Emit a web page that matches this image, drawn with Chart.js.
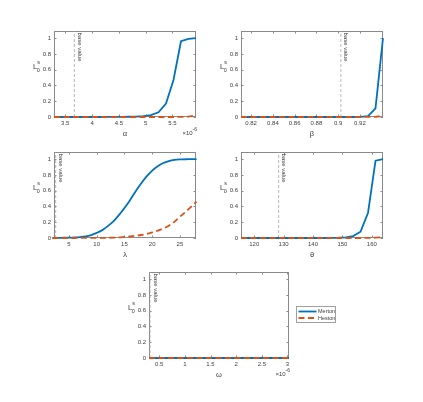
<!DOCTYPE html>
<html>
<head>
<meta charset="utf-8">
<script src="https://cdn.jsdelivr.net/npm/chart.js@4.4.1/dist/chart.umd.min.js"></script>
<style>
body { margin: 0; background: #fff; }
#wrap { position: relative; width: 423px; height: 402px; overflow: hidden; }
#wrap canvas { position: absolute; }
</style>
</head>
<body>
<div id="wrap">
<canvas id="cAlpha"></canvas>
<canvas id="cBeta"></canvas>
<canvas id="cLambda"></canvas>
<canvas id="cTheta"></canvas>
<canvas id="cOmega"></canvas>
</div>
<script>
// --- data ---

// alpha (x in units of 1e-6)
var alphaX = [3.29, 3.43, 3.57, 3.71, 3.85, 3.99, 4.13, 4.27, 4.41, 4.55, 4.69, 4.82, 4.96, 5.10, 5.24, 5.38, 5.52, 5.66, 5.80, 5.94];
var alphaMerton = [0, 0, 0, 0, 0, 0, 0, 0.001, 0.001, 0.002, 0.003, 0.005, 0.01, 0.024, 0.06, 0.17, 0.47, 0.96, 0.99, 1];
var alphaHeston = [0, 0, 0, 0, 0, 0, 0, 0, 0, 0, 0, 0, 0, 0, 0, 0, 0, 0.001, 0.005, 0.022];
var alphaBase = 3.67;
var alphaTicks = [3.5, 4, 4.5, 5, 5.5];
var alphaTickLabels = ['3.5', '4', '4.5', '5', '5.5'];

// beta
var betaX = [0.8107, 0.8176, 0.8244, 0.8313, 0.8382, 0.8450, 0.8519, 0.8588, 0.8656, 0.8725, 0.8794, 0.8862, 0.8931, 0.9000, 0.9068, 0.9137, 0.9206, 0.9275, 0.9343, 0.9412];
var betaMerton = [0, 0, 0, 0, 0, 0, 0, 0, 0, 0, 0, 0, 0, 0, 0, 0, 0.002, 0.012, 0.11, 1];
var betaHeston = [0, 0, 0, 0, 0, 0, 0, 0, 0, 0, 0, 0, 0, 0, 0, 0, 0, 0.001, 0.003, 0.012];
var betaBase = 0.9025;
var betaTicks = [0.82, 0.84, 0.86, 0.88, 0.9, 0.92];
var betaTickLabels = ['0.82', '0.84', '0.86', '0.88', '0.9', '0.92'];

// lambda
var lambdaX = [2, 3, 4, 5, 6, 7, 8, 9, 10, 11, 12, 13, 14, 15, 16, 17, 18, 19, 20, 21, 22, 23, 24, 25, 26, 27, 28];
var lambdaMerton = [0.001, 0.002, 0.003, 0.004, 0.007, 0.012, 0.02, 0.037, 0.065, 0.1, 0.15, 0.21, 0.29, 0.38, 0.48, 0.59, 0.69, 0.78, 0.855, 0.91, 0.95, 0.975, 0.99, 0.996, 0.998, 0.999, 1];
var lambdaHeston = [0, 0, 0, 0, 0, 0.001, 0.001, 0.001, 0.002, 0.002, 0.003, 0.005, 0.008, 0.014, 0.02, 0.028, 0.038, 0.052, 0.07, 0.093, 0.12, 0.155, 0.205, 0.27, 0.33, 0.395, 0.46];
var lambdaBase = 2.6;
var lambdaTicks = [5, 10, 15, 20, 25];
var lambdaTickLabels = ['5', '10', '15', '20', '25'];

// theta
var thetaX = [115.5, 118.04, 120.58, 123.13, 125.67, 128.21, 130.75, 133.29, 135.84, 138.38, 140.92, 143.46, 146.0, 148.55, 151.09, 153.63, 156.17, 158.71, 161.26, 163.8];
var thetaMerton = [0, 0, 0, 0, 0, 0, 0, 0, 0, 0, 0, 0, 0.001, 0.003, 0.008, 0.025, 0.08, 0.32, 0.98, 1];
var thetaHeston = [0, 0, 0, 0, 0, 0, 0, 0, 0, 0, 0, 0, 0, 0, 0, 0, 0, 0.001, 0.004, 0.012];
var thetaBase = 128.3;
var thetaTicks = [120, 130, 140, 150, 160];
var thetaTickLabels = ['120', '130', '140', '150', '160'];

// omega (x in units of 1e-6)
var omegaX = [0.30, 0.44, 0.59, 0.73, 0.87, 1.02, 1.16, 1.31, 1.45, 1.59, 1.74, 1.88, 2.02, 2.17, 2.31, 2.46, 2.60, 2.74, 2.89, 3.03];
var omegaMerton = [0, 0, 0, 0, 0, 0, 0, 0, 0, 0, 0, 0, 0, 0, 0, 0, 0, 0, 0, 0];
var omegaHeston = [0, 0, 0, 0, 0, 0, 0, 0, 0, 0, 0, 0, 0, 0, 0, 0, 0, 0, 0, 0];
var omegaBase = 0.32;
var omegaTicks = [0.5, 1, 1.5, 2, 2.5, 3];
var omegaTickLabels = ['0.5', '1', '1.5', '2', '2.5', '3'];

var yTicks = [0, 0.2, 0.4, 0.6, 0.8, 1];
var yTickLabels = ['0', '0.2', '0.4', '0.6', '0.8', '1'];
var seriesNames = ['Merton', 'Heston'];

// --- look ---
var colMerton = '#0072bd';
var colHeston = '#d95319';
var colBase = '#a6a6a6';
var colAxis = '#8a8a8a';
var colText = '#404040';
var fontFam = '"Liberation Sans", Arial, sans-serif';

var Y_AXIS_W = 42;
var X_AXIS_H = 24;
var PAD_TOP = 8;
var PLOT_H = 86;

function pts(xs, ys) {
    var out = [];
    for (var i = 0; i < xs.length; i++) out.push({ x: xs[i], y: ys[i] });
    return out;
}

// extra drawing: box, inward ticks, y label, base value text, exponent, legend
var decor = {
    id: 'decor',
    beforeDatasetsDraw: function (chart) {
        var ctx = chart.ctx, a = chart.chartArea;
        var xs = chart.scales.x, ys = chart.scales.y;
        ctx.save();
        ctx.strokeStyle = colAxis;
        ctx.lineWidth = 1;
        ctx.strokeRect(a.left + 0.5, a.top + 0.5, a.right - a.left - 1, a.bottom - a.top - 1);
        ctx.beginPath();
        xs.ticks.forEach(function (t) {
            var px = Math.round(xs.getPixelForValue(t.value)) + 0.5;
            ctx.moveTo(px, a.bottom); ctx.lineTo(px, a.bottom - 2.5);
            ctx.moveTo(px, a.top); ctx.lineTo(px, a.top + 2.5);
        });
        ys.ticks.forEach(function (t) {
            var py = Math.round(ys.getPixelForValue(t.value)) + 0.5;
            ctx.moveTo(a.left, py); ctx.lineTo(a.left + 2.5, py);
            ctx.moveTo(a.right, py); ctx.lineTo(a.right - 2.5, py);
        });
        ctx.stroke();
        ctx.restore();
    },
    afterDraw: function (chart, args, o) {
        var ctx = chart.ctx, a = chart.chartArea;
        var xs = chart.scales.x;
        ctx.save();
        ctx.fillStyle = colText;
        // y label L_0^s
        var lx = a.left - 21, ly = a.top + 37.5;
        ctx.textAlign = 'left';
        ctx.textBaseline = 'alphabetic';
        ctx.font = '7.5px ' + fontFam;
        ctx.fillText('L', lx, ly);
        var lw = ctx.measureText('L').width;
        ctx.font = '5.5px ' + fontFam;
        ctx.fillText('0', lx + lw - 0.5, ly + 3.5);
        ctx.fillText('s', lx + lw, ly - 5);

        // base value text
        var bx = xs.getPixelForValue(o.base);
        ctx.save();
        ctx.translate(bx + 3.5, a.top + 1.5);
        ctx.rotate(Math.PI / 2);
        ctx.font = '6px ' + fontFam;
        ctx.textAlign = 'left';
        ctx.textBaseline = 'alphabetic';
        ctx.fillText('base value', 0, 0);
        ctx.restore();

        // x10^-6
        if (o.exponent) {
            ctx.font = '5px ' + fontFam;
            var sw = ctx.measureText(o.exponent).width;
            ctx.textAlign = 'left';
            ctx.fillText(o.exponent, a.right + 1 - sw, a.bottom + 14);
            ctx.font = '6px ' + fontFam;
            ctx.textAlign = 'right';
            ctx.fillText('\u00d710', a.right + 1 - sw, a.bottom + 17.5);
        }

        // legend box
        if (o.legend) {
            var bxl = a.right + 7.5, byt = a.top + 34.5, bw = 39, bh = 16;
            ctx.fillStyle = '#fff';
            ctx.fillRect(bxl, byt, bw, bh);
            ctx.strokeStyle = '#a0a0a0';
            ctx.lineWidth = 1;
            ctx.strokeRect(bxl, byt, bw, bh);
            var ds = chart.data.datasets.filter(function (d) { return seriesNames.indexOf(d.label) >= 0; });
            ds.sort(function (p, q) { return seriesNames.indexOf(p.label) - seriesNames.indexOf(q.label); });
            ds.forEach(function (d, i) {
                var yy = byt + 5 + i * 6.5;
                ctx.strokeStyle = d.borderColor;
                ctx.lineWidth = d.borderWidth;
                ctx.setLineDash(d.borderDash || []);
                ctx.beginPath();
                ctx.moveTo(bxl + 2, yy);
                ctx.lineTo(bxl + 20, yy);
                ctx.stroke();
                ctx.setLineDash([]);
                ctx.fillStyle = colText;
                ctx.font = '5.5px ' + fontFam;
                ctx.textAlign = 'left';
                ctx.textBaseline = 'middle';
                ctx.fillText(d.label, bxl + 21.5, yy);
            });
        }
        ctx.restore();
    }
};

function makePanel(id, p) {
    var cv = document.getElementById(id);
    var padR = p.padRight || 6;
    var w = Y_AXIS_W + p.width + padR;
    var h = PAD_TOP + PLOT_H + X_AXIS_H;
    cv.width = w;
    cv.height = h;
    cv.style.left = (p.left - Y_AXIS_W) + 'px';
    cv.style.top = (p.top - PAD_TOP) + 'px';

    var lineCommon = { pointRadius: 0, fill: false, borderWidth: 1.8, clip: 2 };
    if (p.smooth) lineCommon.cubicInterpolationMode = 'monotone';

    new Chart(cv.getContext('2d'), {
        type: 'line',
        data: {
            datasets: [
                Object.assign({ label: 'Merton', data: pts(p.xs, p.merton), borderColor: colMerton, order: 1 }, lineCommon),
                Object.assign({ label: 'Heston', data: pts(p.xs, p.heston), borderColor: colHeston, borderDash: [6, 3.5], order: 0 }, lineCommon),
                {
                    label: 'base',
                    data: [{ x: p.base, y: 0 }, { x: p.base, y: 1.09 }],
                    borderColor: colBase, borderWidth: 0.8, borderDash: [3, 2], pointRadius: 0, fill: false, order: 2
                }
            ]
        },
        options: {
            responsive: false,
            animation: false,
            devicePixelRatio: 1,
            layout: { padding: { left: 0, top: PAD_TOP, right: padR, bottom: 0 }, autoPadding: false },
            scales: {
                x: {
                    type: 'linear',
                    min: p.xMin,
                    max: p.xMax,
                    afterBuildTicks: function (s) { s.ticks = p.ticks.map(function (v) { return { value: v }; }); },
                    afterFit: function (s) { s.height = X_AXIS_H; },
                    grid: { display: false, drawTicks: false },
                    border: { display: false },
                    ticks: {
                        autoSkip: false, maxRotation: 0, padding: 3, color: colText,
                        font: { size: 6, family: fontFam },
                        callback: function (v, i) { return p.tickLabels[i]; }
                    },
                    title: { display: true, text: p.title, color: colText, font: { size: 7.5, family: fontFam }, padding: { top: 0, bottom: 3 } }
                },
                y: {
                    min: 0,
                    max: 1.09,
                    afterBuildTicks: function (s) { s.ticks = yTicks.map(function (v) { return { value: v }; }); },
                    afterFit: function (s) { s.width = Y_AXIS_W; },
                    grid: { display: false, drawTicks: false },
                    border: { display: false },
                    ticks: {
                        padding: 3, color: colText,
                        font: { size: 6, family: fontFam },
                        callback: function (v, i) { return yTickLabels[i]; }
                    }
                }
            },
            plugins: {
                legend: { display: false },
                tooltip: { enabled: false },
                decor: { base: p.base, exponent: p.exponent, legend: p.legend }
            }
        },
        plugins: [decor]
    });
}

makePanel('cAlpha', { left: 54, top: 31, width: 142, xs: alphaX, merton: alphaMerton, heston: alphaHeston, base: alphaBase,
    xMin: 3.29, xMax: 5.94, ticks: alphaTicks, tickLabels: alphaTickLabels, title: '\u03b1', exponent: '-6' });
makePanel('cBeta', { left: 241, top: 31, width: 142, xs: betaX, merton: betaMerton, heston: betaHeston, base: betaBase,
    xMin: 0.8107, xMax: 0.9412, ticks: betaTicks, tickLabels: betaTickLabels, title: '\u03b2' });
makePanel('cLambda', { left: 54, top: 152, width: 142, xs: lambdaX, merton: lambdaMerton, heston: lambdaHeston, base: lambdaBase,
    xMin: 2.3, xMax: 27.9, ticks: lambdaTicks, tickLabels: lambdaTickLabels, title: '\u03bb', smooth: true });
makePanel('cTheta', { left: 241, top: 152, width: 142, xs: thetaX, merton: thetaMerton, heston: thetaHeston, base: thetaBase,
    xMin: 115.5, xMax: 163.8, ticks: thetaTicks, tickLabels: thetaTickLabels, title: '\u03b8' });
makePanel('cOmega', { left: 149, top: 272, width: 140, padRight: 60, xs: omegaX, merton: omegaMerton, heston: omegaHeston, base: omegaBase,
    xMin: 0.3, xMax: 3.03, ticks: omegaTicks, tickLabels: omegaTickLabels, title: '\u03c9', exponent: '-6', legend: true });
</script>
</body>
</html>
